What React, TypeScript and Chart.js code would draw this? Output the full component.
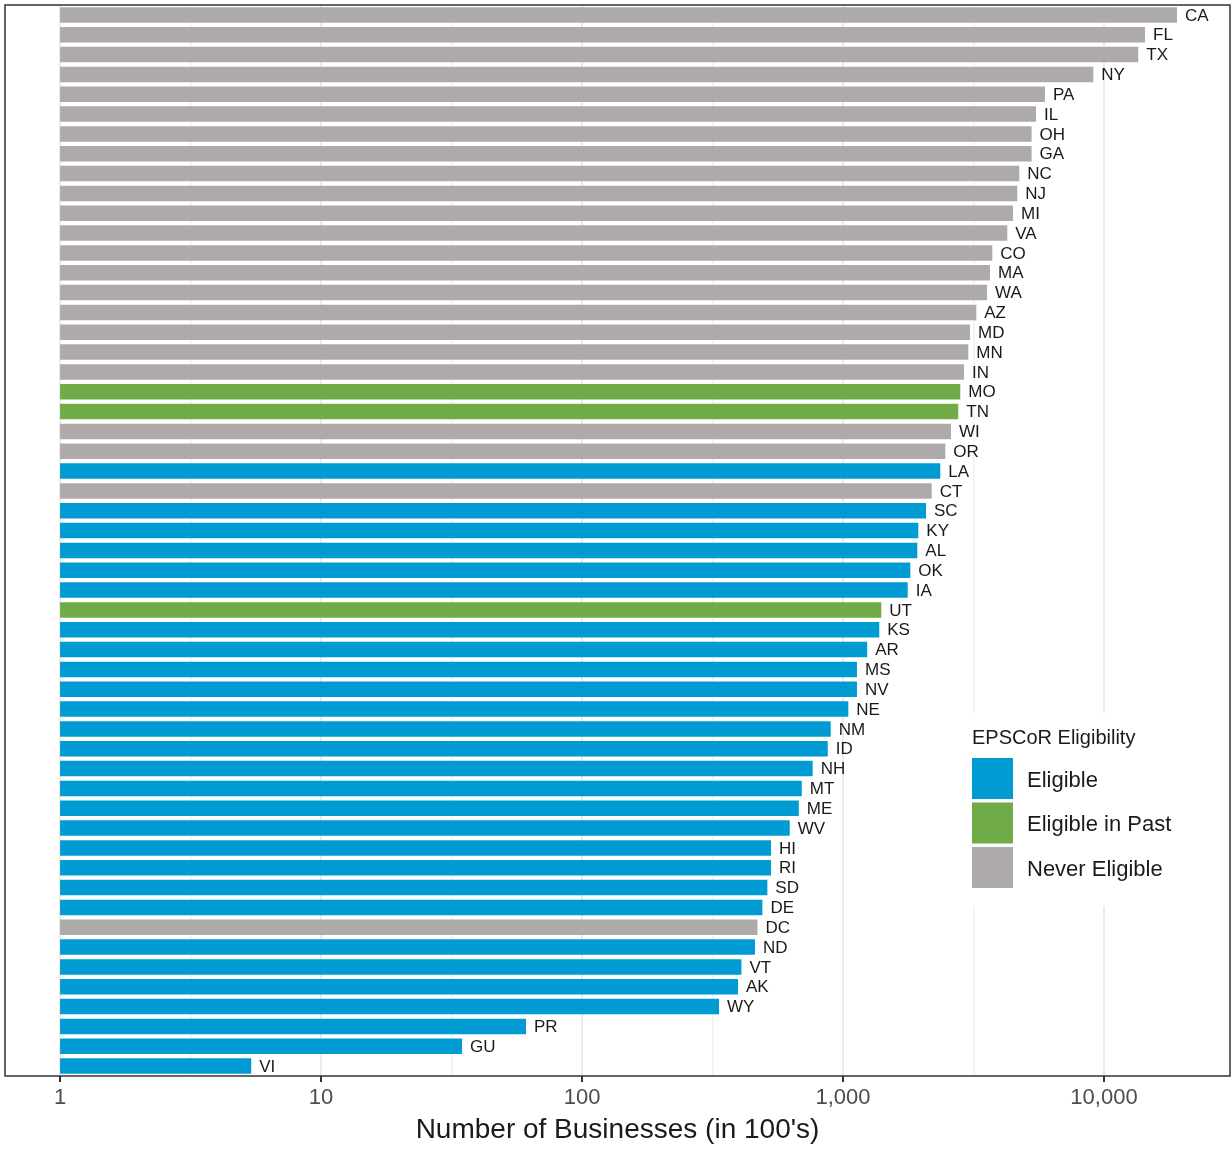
import React, { useEffect, useRef } from "react";
import { Chart, registerables } from "chart.js";

Chart.register(...registerables);

const states = [
  "CA", "FL", "TX", "NY", "PA", "IL", "OH", "GA", "NC", "NJ", "MI", "VA", "CO", "MA", "WA", "AZ", "MD", "MN",
  "IN", "MO", "TN", "WI", "OR", "LA", "CT", "SC", "KY", "AL", "OK", "IA", "UT", "KS", "AR", "MS", "NV", "NE",
  "NM", "ID", "NH", "MT", "ME", "WV", "HI", "RI", "SD", "DE", "DC", "ND", "VT", "AK", "WY", "PR", "GU", "VI",
];

const businesses = [
  19050, 14360, 13530, 9100, 5940, 5490, 5280, 5280, 4738, 4654, 4480, 4261, 3733, 3658, 3562, 3241, 3066, 3021,
  2908, 2814, 2765, 2593, 2466, 2359, 2187, 2080, 1943, 1926, 1811, 1770, 1402, 1377, 1238, 1131, 1131, 1048,
  897, 874, 765, 695, 677, 625, 530, 530, 513, 491, 470, 460, 408, 396, 335, 61, 34.7, 5.4,
];

// E = Eligible, P = Eligible in Past, N = Never Eligible
const eligibility = [
  "N", "N", "N", "N", "N", "N", "N", "N", "N", "N", "N", "N", "N", "N", "N", "N", "N", "N",
  "N", "P", "P", "N", "N", "E", "N", "E", "E", "E", "E", "E", "P", "E", "E", "E", "E", "E",
  "E", "E", "E", "E", "E", "E", "E", "E", "E", "E", "N", "E", "E", "E", "E", "E", "E", "E",
];

const legendKeys = ["E", "P", "N"];
const legendLabels = ["Eligible", "Eligible in Past", "Never Eligible"];
const legendTitle = "EPSCoR Eligibility";

const xTicks = [1, 3.1623, 10, 31.623, 100, 316.23, 1000, 3162.3, 10000];
const majorTicks = [1, 10, 100, 1000, 10000];
const xTitle = "Number of Businesses (in 100's)";

const COLORS: Record<string, string> = {
  E: "#009bd2",
  P: "#6fab46",
  N: "#aeaaa9",
};

const FONT = "'Liberation Sans', Arial, sans-serif";

const isMajor = (v: number) => majorTicks.some((m) => Math.abs(m - v) < 1e-6);

const barLabelPlugin = {
  id: "barLabels",
  afterDatasetsDraw(chart: any) {
    const ctx = chart.ctx;
    const meta = chart.getDatasetMeta(0);
    ctx.save();
    ctx.font = `17px ${FONT}`;
    ctx.fillStyle = "#1a1a1a";
    ctx.textAlign = "left";
    ctx.textBaseline = "middle";
    meta.data.forEach((el: any, i: number) => {
      ctx.fillText(states[i], el.x + 8, el.y + 1);
    });
    ctx.restore();
  },
};

const legendPlugin = {
  id: "customLegend",
  afterDatasetsDraw(chart: any) {
    const ctx = chart.ctx;
    ctx.save();
    ctx.fillStyle = "#ffffff";
    ctx.fillRect(958, 713, 234, 193);
    ctx.fillStyle = "#1a1a1a";
    ctx.font = `20px ${FONT}`;
    ctx.textAlign = "left";
    ctx.textBaseline = "alphabetic";
    ctx.fillText(legendTitle, 972, 744);
    legendKeys.forEach((k, i) => {
      const top = 758 + i * 44.5;
      ctx.fillStyle = COLORS[k];
      ctx.fillRect(972, top, 41, 41);
      ctx.fillStyle = "#1a1a1a";
      ctx.font = `22px ${FONT}`;
      ctx.fillText(legendLabels[i], 1027, top + 28.5);
    });
    ctx.restore();
  },
};

const borderPlugin = {
  id: "panelBorder",
  afterDraw(chart: any) {
    const { ctx, chartArea } = chart;
    ctx.save();
    ctx.strokeStyle = "#333333";
    ctx.lineWidth = 1.5;
    ctx.strokeRect(chartArea.left, chartArea.top, chartArea.right - chartArea.left, chartArea.bottom - chartArea.top);
    ctx.restore();
  },
};

export default function App() {
  const canvasRef = useRef<HTMLCanvasElement | null>(null);

  useEffect(() => {
    if (!canvasRef.current) return;
    const chart = new Chart(canvasRef.current, {
      type: "bar",
      data: {
        labels: states,
        datasets: [
          {
            data: businesses.map((v) => [1, v]) as any,
            backgroundColor: eligibility.map((g) => COLORS[g]),
            borderWidth: 0,
            barPercentage: 0.78,
            categoryPercentage: 1,
          },
        ],
      },
      options: {
        indexAxis: "y",
        animation: false,
        responsive: false,
        devicePixelRatio: 1,
        layout: { padding: { left: 5, top: 5, right: 2, bottom: 0 } },
        plugins: {
          legend: { display: false },
          tooltip: { enabled: false },
        },
        scales: {
          y: {
            display: false,
            offset: true,
            grid: { display: false },
          },
          x: {
            type: "logarithmic",
            bounds: "data",
            min: 0.615,
            max: 30400,
            afterBuildTicks: (scale: any) => {
              scale.ticks = xTicks.map((v) => ({ value: v, major: isMajor(v) }));
            },
            afterFit: (scale: any) => {
              scale.height = 74;
            },
            border: { display: false },
            grid: {
              color: (c: any) => (c.tick && isMajor(c.tick.value) ? "#ebebeb" : "#f1f1f1"),
              lineWidth: (c: any) => (c.tick && isMajor(c.tick.value) ? 2 : 1.5),
              drawTicks: true,
              tickLength: 6,
              tickWidth: 2,
              tickColor: (c: any) => (c.tick && isMajor(c.tick.value) ? "#333333" : "rgba(0,0,0,0)"),
            },
            ticks: {
              autoSkip: false,
              maxRotation: 0,
              padding: 3,
              color: "#4d4d4d",
              font: { family: FONT, size: 22 },
              callback: (v: any) => {
                const n = Number(v);
                return isMajor(n) ? Math.round(n).toLocaleString("en-US") : "";
              },
            },
            title: {
              display: true,
              text: xTitle,
              color: "#1a1a1a",
              font: { family: FONT, size: 28 },
              padding: { top: 0, bottom: 3 },
            },
          },
        },
      },
      plugins: [barLabelPlugin, legendPlugin, borderPlugin],
    });
    return () => chart.destroy();
  }, []);

  return (
    <div style={{ position: "absolute", left: 0, top: 0, width: 1232, height: 1150, background: "#fff" }}>
      <canvas ref={canvasRef} width={1232} height={1150} style={{ width: 1232, height: 1150 }} />
    </div>
  );
}
